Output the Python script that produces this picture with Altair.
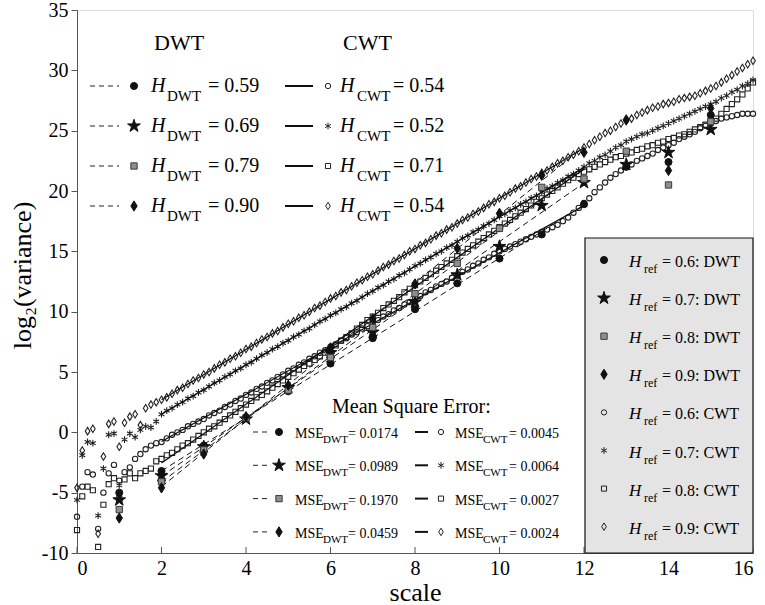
import altair as alt
import pandas as pd

FONT = "Liberation Serif"

# ---------------- data ----------------
cwt_scale = [i / 8 for i in range(129)]

cwt_h06 = [
    -7.0, -4.5, -3.3, -3.5, -8.0, -5.0, -3.4, -2.7,
    -4.0, -3.3, -2.9, -2.2, -1.8, -1.4, -1.1, -0.9,
    -0.8, -0.5, -0.2, 0.0, 0.2, 0.5, 0.7, 0.9,
    1.1, 1.4, 1.6, 1.8, 2.1, 2.3, 2.6, 2.8,
    3.1, 3.3, 3.6, 3.8, 4.1, 4.3, 4.6, 4.8,
    5.1, 5.3, 5.6, 5.8, 6.1, 6.3, 6.6, 6.8,
    7.1, 7.3, 7.6, 7.8, 8.1, 8.3, 8.6, 8.8,
    9.1, 9.3, 9.6, 9.8, 10.1, 10.3, 10.6, 10.8,
    11.1, 11.3, 11.6, 11.8, 12.1, 12.3, 12.5, 12.8,
    13.0, 13.3, 13.5, 13.8, 14.0, 14.3, 14.5, 14.8,
    15.0, 15.2, 15.4, 15.6, 15.8, 16.0, 16.2, 16.4,
    16.6, 16.8, 17.0, 17.2, 17.5, 17.8, 18.2, 18.6,
    19.0, 19.4, 19.9, 20.3, 20.7, 21.1, 21.4, 21.7,
    22.0, 22.2, 22.5, 22.7, 22.9, 23.1, 23.4, 23.6,
    23.8, 24.0, 24.3, 24.5, 24.7, 24.9, 25.2, 25.4,
    25.6, 25.8, 26.0, 26.1, 26.2, 26.3, 26.4, 26.4,
    26.4,
]
cwt_h07 = [
    -5.6, -1.9, -0.8, -0.9, -6.9, -3.0, -0.2, -0.1,
    -4.4, -0.6, -0.1, -0.4, 0.2, 0.5, 0.4, 0.9,
    1.5, 1.8, 2.0, 2.3, 2.5, 2.8, 3.0, 3.3,
    3.5, 3.8, 4.1, 4.3, 4.6, 4.8, 5.1, 5.3,
    5.6, 5.8, 6.1, 6.4, 6.6, 6.9, 7.1, 7.4,
    7.6, 7.9, 8.1, 8.4, 8.6, 8.9, 9.2, 9.4,
    9.7, 9.9, 10.2, 10.4, 10.7, 10.9, 11.2, 11.5,
    11.7, 12.0, 12.2, 12.5, 12.7, 13.0, 13.2, 13.5,
    13.8, 14.0, 14.3, 14.5, 14.8, 15.0, 15.3, 15.5,
    15.8, 16.1, 16.3, 16.6, 16.8, 17.1, 17.3, 17.6,
    17.9, 18.1, 18.4, 18.6, 18.9, 19.1, 19.4, 19.6,
    19.9, 20.2, 20.4, 20.7, 20.9, 21.2, 21.4, 21.7,
    22.0, 22.3, 22.5, 22.8, 23.0, 23.3, 23.6, 23.8,
    24.1, 24.3, 24.5, 24.7, 24.8, 25.0, 25.2, 25.4,
    25.6, 25.8, 26.0, 26.2, 26.4, 26.6, 26.8, 27.0,
    27.2, 27.4, 27.7, 27.9, 28.2, 28.4, 28.7, 28.9,
    29.2,
]
cwt_h08 = [
    -8.1, -5.3, -4.5, -4.8, -9.5, -6.0, -4.3, -3.8,
    -5.5, -3.9, -3.4, -3.8, -3.4, -3.2, -3.0, -2.4,
    -2.2, -1.9, -1.7, -1.4, -1.1, -0.9, -0.6, -0.3,
    0.0, 0.3, 0.5, 0.8, 1.1, 1.4, 1.7, 2.0,
    2.3, 2.6, 2.9, 3.1, 3.4, 3.7, 4.0, 4.3,
    4.6, 4.9, 5.2, 5.5, 5.7, 6.0, 6.3, 6.6,
    6.9, 7.2, 7.6, 7.9, 8.2, 8.6, 8.9, 9.3,
    9.6, 9.9, 10.3, 10.6, 10.9, 11.2, 11.6, 11.9,
    12.2, 12.5, 12.8, 13.1, 13.4, 13.7, 14.0, 14.3,
    14.6, 14.9, 15.2, 15.5, 15.8, 16.1, 16.4, 16.7,
    17.0, 17.3, 17.6, 17.9, 18.2, 18.5, 18.8, 19.1,
    19.4, 19.7, 20.0, 20.3, 20.6, 20.9, 21.1, 21.4,
    21.6, 21.8, 22.0, 22.2, 22.4, 22.6, 22.8, 22.9,
    23.1, 23.2, 23.4, 23.5, 23.7, 23.8, 24.0, 24.1,
    24.3, 24.4, 24.6, 24.7, 24.9, 25.1, 25.3, 25.5,
    25.7, 26.0, 26.4, 26.8, 27.2, 27.6, 28.0, 28.5,
    29.0,
]
cwt_h09 = [
    -4.6, -1.5, 0.1, 0.3, -8.4, -2.0, 0.7, 0.9,
    -1.2, 0.8, 1.3, 1.5, 0.6, 2.0, 2.3, 2.5,
    2.7, 2.9, 3.2, 3.5, 3.7, 4.0, 4.3, 4.5,
    4.8, 5.0, 5.3, 5.6, 5.8, 6.1, 6.3, 6.6,
    6.9, 7.1, 7.4, 7.7, 7.9, 8.2, 8.4, 8.7,
    9.0, 9.2, 9.5, 9.7, 10.0, 10.3, 10.5, 10.8,
    11.1, 11.3, 11.6, 11.8, 12.1, 12.4, 12.6, 12.9,
    13.1, 13.4, 13.7, 13.9, 14.2, 14.4, 14.7, 15.0,
    15.2, 15.5, 15.7, 16.0, 16.3, 16.5, 16.8, 17.0,
    17.3, 17.6, 17.8, 18.1, 18.3, 18.6, 18.9, 19.1,
    19.4, 19.6, 19.9, 20.2, 20.4, 20.7, 21.0, 21.2,
    21.5, 21.7, 22.0, 22.3, 22.5, 22.8, 23.0, 23.3,
    23.6, 23.9, 24.2, 24.5, 24.8, 25.0, 25.3, 25.6,
    25.8, 26.0, 26.3, 26.5, 26.7, 26.9, 27.0, 27.2,
    27.3, 27.4, 27.6, 27.7, 27.8, 27.9, 28.1, 28.3,
    28.5, 28.7, 29.0, 29.3, 29.6, 29.9, 30.2, 30.5,
    30.8,
]

dwt_scale = [1, 2, 3, 4, 5, 6, 7, 8, 9, 10, 11, 12, 13, 14, 15]
dwt_h06 = [-5.0, -3.2, -1.1, 1.2, 3.4, 5.7, 7.8, 10.2, 12.35, 14.4, 16.4, 18.9, 22.0, 22.4, 26.3]
dwt_h07 = [-5.6, -3.6, -1.2, 1.1, 3.7, 6.6, 8.3, 10.8, 13.05, 15.4, 18.8, 20.7, 22.2, 23.2, 25.1]
dwt_h08 = [-6.4, -4.1, -1.45, 1.2, 3.5, 6.2, 8.7, 11.5, 14.0, 16.9, 20.3, 21.0, 23.3, 20.5, 25.75]
dwt_h09 = [-7.1, -4.6, -1.8, 1.3, 3.9, 7.0, 9.4, 12.3, 15.25, 18.15, 21.3, 23.2, 25.9, 21.7, 26.85]

h_ref = ["0.6", "0.7", "0.8", "0.9"]
h_dwt = ["0.59", "0.69", "0.79", "0.90"]
h_cwt = ["0.54", "0.52", "0.71", "0.54"]
mse_dwt = ["0.0174", "0.0989", "0.1970", "0.0459"]
mse_cwt = ["0.0045", "0.0064", "0.0027", "0.0024"]
x_ticks = [0, 2, 4, 6, 8, 10, 12, 14, 16]
y_ticks = [-10, -5, 0, 5, 10, 15, 20, 25, 30, 35]

# ---------------- tables ----------------
dwt_keys = ["DWT " + h for h in h_ref]
cwt_keys = ["CWT " + h for h in h_ref]
keys = dwt_keys + cwt_keys

cwt_rows = []
for k, vals in zip(cwt_keys, [cwt_h06, cwt_h07, cwt_h08, cwt_h09]):
    for s, v in zip(cwt_scale, vals):
        cwt_rows.append({"scale": s, "value": v, "series": k})
cwt_df = pd.DataFrame(cwt_rows)

dwt_rows = []
for k, vals in zip(dwt_keys, [dwt_h06, dwt_h07, dwt_h08, dwt_h09]):
    for s, v in zip(dwt_scale, vals):
        dwt_rows.append({"scale": s, "value": v, "series": k})
dwt_df = pd.DataFrame(dwt_rows)

# ---------------- styles ----------------
STAR = ("M0,-1L0.225,-0.309L0.951,-0.309L0.363,0.118L0.588,0.809L0,0.382"
        "L-0.588,0.809L-0.363,0.118L-0.951,-0.309L-0.225,-0.309Z")
DIAM = "M0,-1L0.62,0L0,1L-0.62,0Z"
ASTER = "M0,-1L0,1M-0.866,-0.5L0.866,0.5M-0.866,0.5L0.866,-0.5"

shape_sc = alt.Scale(domain=keys, range=["circle", STAR, "square", DIAM,
                                         "circle", ASTER, "square", DIAM])
fill_sc = alt.Scale(domain=keys, range=["#111111", "#111111", "#8e8e8e", "#111111",
                                        "transparent", "transparent", "transparent", "transparent"])
stroke_sc = alt.Scale(domain=keys, range=["#111111", "#111111", "#3a3a3a", "#111111",
                                          "#222222", "#222222", "#222222", "#222222"])
size_sc = alt.Scale(type="ordinal", domain=keys, range=[50, 180, 40, 105, 28, 46, 26, 56])


def sym_enc():
    return dict(
        shape=alt.Shape("series:N", scale=shape_sc, legend=None),
        fill=alt.Fill("series:N", scale=fill_sc, legend=None),
        stroke=alt.Stroke("series:N", scale=stroke_sc, legend=None),
        size=alt.Size("series:N", scale=size_sc, legend=None),
    )


x_axis = alt.Axis(values=x_ticks, ticks=False, grid=False, labelFont=FONT, labelFontSize=20,
                  labelColor="black", labelPadding=5, domainColor="#555555",
                  title="scale", titleFont=FONT, titleFontSize=26, titleFontWeight="normal",
                  titleColor="black", titleY=47, titleBaseline="alphabetic")
y_axis = alt.Axis(values=y_ticks, tickSize=6, tickColor="#555555", grid=False, labelFont=FONT,
                  labelFontSize=20, labelColor="black", labelPadding=3, domainColor="#555555",
                  labelExpr="datum.value < 0 ? '-' + abs(datum.value) : '' + datum.value",
                  title="log₂(variance)", titleFont=FONT, titleFontSize=26,
                  titleFontWeight="normal", titleColor="black", titleAngle=-90,
                  titleX=-55, titleY=265, titleAlign="center", titleBaseline="middle")

X = alt.X("scale:Q", scale=alt.Scale(domain=[0, 16], nice=False, zero=False), axis=x_axis)
Y = alt.Y("value:Q", scale=alt.Scale(domain=[-10, 35], nice=False, zero=False), axis=y_axis)

cwt_pts = alt.Chart(cwt_df).mark_point(opacity=1, strokeWidth=1.1).encode(x=X, y=Y, **sym_enc())

cwt_fit = alt.Chart(cwt_df).transform_filter(
    "datum.scale >= 2 && datum.scale <= 12"
).transform_regression("scale", "value", groupby=["series"], extent=[2, 12]).mark_line(
    color="#111111", strokeWidth=1.3
).encode(x="scale:Q", y="value:Q", detail="series:N")

dwt_fit = alt.Chart(dwt_df).transform_filter(
    "datum.scale >= 2 && datum.scale <= 12"
).transform_regression("scale", "value", groupby=["series"], extent=[2, 12]).mark_line(
    color="#111111", strokeWidth=1, strokeDash=[6, 4]
).encode(x="scale:Q", y="value:Q", detail="series:N")

dwt_pts = alt.Chart(dwt_df).mark_point(opacity=1, strokeWidth=1).encode(x="scale:Q", y="value:Q", **sym_enc())

tick_df = pd.DataFrame({"t": x_ticks})
x_ticks_in = alt.Chart(tick_df).mark_rule(color="#555555", strokeWidth=1).encode(
    x="t:Q", y=alt.value(543), y2=alt.value(537))

# ---------------- legends (pixel positions inside plot area) ----------------
PX = alt.X("px:Q", scale=None, axis=None)
PY = alt.Y("py:Q", scale=None, axis=None)

texts = []
sym_rows = []
dash_rows = []
solid_rows = []

# top-left legend
texts.append(dict(px=77, py=40, t="DWT", fs=22, it=False))
texts.append(dict(px=266, py=40, t="CWT", fs=22, it=False))
for i in range(4):
    cy = 76 + 40 * i
    dash_rows.append(dict(px=13, px2=42, py=cy))
    sym_rows.append(dict(px=57, py=cy, series=dwt_keys[i]))
    texts.append(dict(px=74, py=cy + 6, t="H", fs=20, it=True))
    texts.append(dict(px=90, py=cy + 15, t="DWT", fs=15, it=False))
    texts.append(dict(px=131, py=cy + 6, t="= " + h_dwt[i], fs=20, it=False))
    solid_rows.append(dict(px=208, px2=236, py=cy))
    sym_rows.append(dict(px=251, py=cy, series=cwt_keys[i]))
    texts.append(dict(px=263, py=cy + 6, t="H", fs=20, it=True))
    texts.append(dict(px=280, py=cy + 15, t="CWT", fs=15, it=False))
    texts.append(dict(px=316, py=cy + 6, t="= " + h_cwt[i], fs=20, it=False))

# mean square error legend
texts.append(dict(px=255, py=403, t="Mean Square Error:", fs=20, it=False))
for j in range(4):
    cy = 422 + 33.3 * j
    dash_rows.append(dict(px=176, px2=192, py=cy))
    sym_rows.append(dict(px=202, py=cy, series=dwt_keys[j]))
    texts.append(dict(px=218, py=cy + 6, t="MSE", fs=14, it=False))
    texts.append(dict(px=246, py=cy + 11, t="DWT", fs=11, it=False))
    texts.append(dict(px=271, py=cy + 6, t="= " + mse_dwt[j], fs=14, it=False))
    solid_rows.append(dict(px=338, px2=351, py=cy))
    sym_rows.append(dict(px=364, py=cy, series=cwt_keys[j]))
    texts.append(dict(px=378, py=cy + 6, t="MSE", fs=14, it=False))
    texts.append(dict(px=406, py=cy + 11, t="CWT", fs=11, it=False))
    texts.append(dict(px=432, py=cy + 6, t="= " + mse_cwt[j], fs=14, it=False))

# right boxed legend
for k in range(8):
    cy = 250 + 38.1 * k
    key = keys[k]
    sym_rows.append(dict(px=527, py=cy, series=key))
    texts.append(dict(px=552, py=cy + 7, t="H", fs=17, it=True))
    texts.append(dict(px=567, py=cy + 13, t="ref", fs=12, it=False))
    texts.append(dict(px=585, py=cy + 7, t="= " + key.split(" ")[1] + ": " + key.split(" ")[0],
                      fs=16, it=False))

text_df = pd.DataFrame(texts)
text_layers = []
for (fs, it), grp in text_df.groupby(["fs", "it"]):
    text_layers.append(
        alt.Chart(grp.reset_index(drop=True)).mark_text(
            font=FONT, fontSize=int(fs), fontStyle="italic" if it else "normal",
            align="left", baseline="alphabetic", color="black"
        ).encode(x=PX, y=PY, text="t:N")
    )

box = alt.Chart(pd.DataFrame({"a": [0]})).mark_rect(
    fill="#e4e4e4", stroke="#111111", strokeWidth=1.2
).encode(x=alt.value(508), x2=alt.value(676), y=alt.value(228), y2=alt.value(543))

dash_leg = alt.Chart(pd.DataFrame(dash_rows)).mark_rule(
    color="#222222", strokeWidth=1, strokeDash=[5, 4]
).encode(x=PX, x2="px2:Q", y=PY)
solid_leg = alt.Chart(pd.DataFrame(solid_rows)).mark_rule(
    color="#111111", strokeWidth=2
).encode(x=PX, x2="px2:Q", y=PY)
sym_leg = alt.Chart(pd.DataFrame(sym_rows)).mark_point(opacity=1, strokeWidth=1).encode(
    x=PX, y=PY, **sym_enc())

chart = alt.layer(
    cwt_pts, cwt_fit, dwt_fit, dwt_pts, x_ticks_in, box,
    dash_leg, solid_leg, sym_leg, *text_layers
).properties(
    width=676, height=543,
    padding={"left": 77, "top": 10, "right": 12, "bottom": 52},
    autosize="none",
).configure_view(stroke="#333333", strokeWidth=1.2).configure(background="white")

chart.save("out.html", embed_options={"renderer": "svg", "actions": False})
